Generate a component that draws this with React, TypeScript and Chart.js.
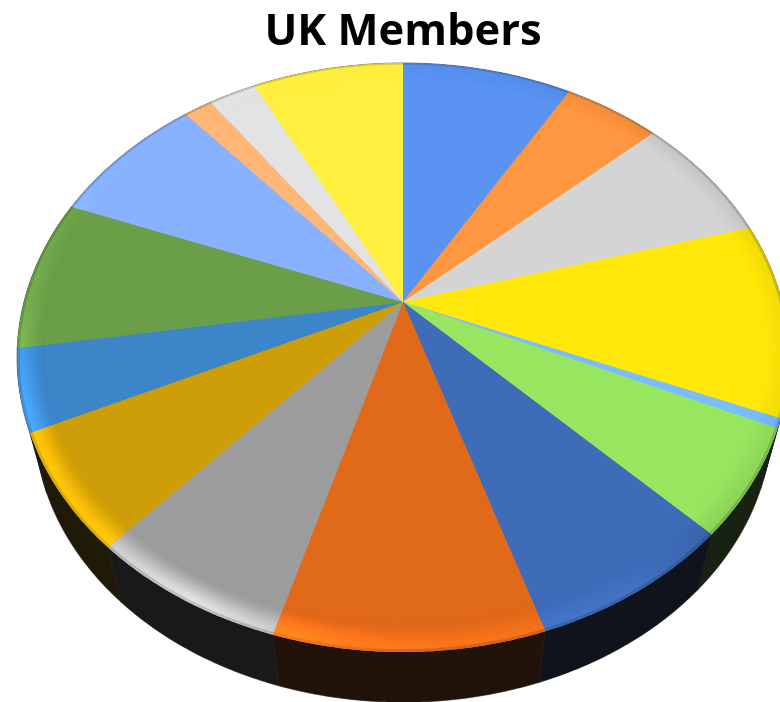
import React, { useEffect, useRef } from "react";
import { Chart, registerables } from "chart.js";

Chart.register(...registerables);

const TITLE = "UK Members";
const categories = [
  "Group 1", "Group 2", "Group 3", "Group 4", "Group 5", "Group 6", "Group 7", "Group 8",
  "Group 9", "Group 10", "Group 11", "Group 12", "Group 13", "Group 14", "Group 15", "Group 16",
];
const members = [8.5, 4.83, 7.25, 10.64, 0.53, 5.8, 7.47, 9.53, 7.14, 6.36, 4.44, 8.36, 7.8, 1.42, 2.39, 7.56];
const sliceColors = [
  "#5A93F2", "#FF9640", "#D4D4D4", "#FFE80A", "#78BEFF", "#98E660", "#3F6CB8", "#E0691A",
  "#9C9C9C", "#CE9E08", "#3B85C8", "#6B9E48", "#88B2FF", "#FFB778", "#E3E3E3", "#FFF040",
];

// Perspective of the disc: apex position and projective coefficients
const APEX_X = 403;
const APEX_Y = 302;
const K = 0.1885;
const A = 284;
const B = 379;
const WALL_SCALE = 0.955;
const WALL_DROP = 66;

const lightStops: [number, number][] = [
  [0, 0.99], [60, 0.93], [100, 0.96], [135, 0.92], [150, 1.08], [180, 1.15], [208, 1.5],
  [228, 1.28], [250, 1.3], [270, 1.12], [300, 1.02], [360, 0.99],
];

const hexToRgb = (h: string) => [1, 3, 5].map((i) => parseInt(h.slice(i, i + 2), 16));
const css = (c: number[]) => `rgb(${c.map((v) => Math.max(0, Math.min(255, Math.round(v)))).join(",")})`;

function lightAt(th: number) {
  let d = ((th * 180) / Math.PI) % 360;
  if (d < 0) d += 360;
  for (let i = 1; i < lightStops.length; i++) {
    const [a0, f0] = lightStops[i - 1];
    const [a1, f1] = lightStops[i];
    if (d <= a1) return f0 + ((f1 - f0) * (d - a0)) / (a1 - a0);
  }
  return 1;
}

function project(r: number, th: number, scale = 1, drop = 0) {
  const u = r * Math.sin(th);
  const v = -r * Math.cos(th);
  const w = 1 - K * v;
  return { x: APEX_X + ((B * u) / w) * scale, y: APEX_Y + ((A * v) / w) * scale + drop };
}

const disc3d = {
  id: "disc3d",
  beforeDatasetsDraw(chart: any) {
    const ctx = chart.ctx as CanvasRenderingContext2D;
    const arcs = chart.getDatasetMeta(0).data as any[];
    const slices = arcs.map((arc, i) => {
      const s = arc.startAngle + Math.PI / 2;
      const e = arc.endAngle + Math.PI / 2;
      const n = Math.max(2, Math.ceil((e - s) / (Math.PI / 360)));
      const base = hexToRgb(sliceColors[i]);
      return { s, e, n, base, wall: base.map((c) => c * 0.12 + 6) };
    });

    // side wall
    ctx.save();
    slices.forEach(({ s, e, n, wall }) => {
      ctx.beginPath();
      for (let j = 0; j <= n; j++) {
        const p = project(1, s + ((e - s) * j) / n);
        j === 0 ? ctx.moveTo(p.x, p.y) : ctx.lineTo(p.x, p.y);
      }
      for (let j = n; j >= 0; j--) {
        const p = project(1, s + ((e - s) * j) / n, WALL_SCALE, WALL_DROP);
        ctx.lineTo(p.x, p.y);
      }
      ctx.closePath();
      ctx.fillStyle = css(wall);
      ctx.strokeStyle = css(wall);
      ctx.lineWidth = 0.6;
      ctx.fill();
      ctx.stroke();
    });
    ctx.restore();

    // top face: an undercoat closes the seams between neighbouring slices
    slices.forEach(({ s, e, n, base }) => {
      ctx.beginPath();
      const c = project(0, 0);
      ctx.moveTo(c.x, c.y);
      for (let j = 0; j <= n; j++) {
        const p = project(0.995, s + ((e - s) * j) / n);
        ctx.lineTo(p.x, p.y);
      }
      ctx.closePath();
      ctx.strokeStyle = css(base);
      ctx.lineWidth = 1;
      ctx.stroke();
    });

    // top face with bevelled rim
    const R0 = 0.93;
    const RINGS = 12;
    slices.forEach(({ s, e, n, base, wall }) => {
      ctx.save();
      ctx.beginPath();
      const c = project(0, 0);
      ctx.moveTo(c.x, c.y);
      for (let j = 0; j <= n; j++) {
        const p = project(1, s + ((e - s) * j) / n);
        ctx.lineTo(p.x, p.y);
      }
      ctx.closePath();
      ctx.fillStyle = css(base);
      ctx.fill();
      ctx.clip();
      for (let q = 0; q < RINGS; q++) {
        const t0 = q / RINGS;
        const t1 = (q + 1) / RINGS;
        const r0 = R0 + (1 - R0) * t0;
        const r1 = R0 + (1 - R0) * t1;
        const tm = (t0 + t1) / 2;
        const ease = tm * tm * (3 - 2 * tm);
        for (let j = 0; j < n; j++) {
          const a0 = s + ((e - s) * j) / n;
          const a1 = s + ((e - s) * (j + 1)) / n;
          const I = 1 + (lightAt((a0 + a1) / 2) - 1) * ease;
          let col = base.map((v) => v * I);
          if (q === RINGS - 1) col = col.map((v, idx) => v * 0.82 + wall[idx] * 0.18);
          const p1 = project(r0, a0);
          const p2 = project(r1, a0);
          const p3 = project(r1, a1);
          const p4 = project(r0, a1);
          ctx.beginPath();
          ctx.moveTo(p1.x, p1.y);
          ctx.lineTo(p2.x, p2.y);
          ctx.lineTo(p3.x, p3.y);
          ctx.lineTo(p4.x, p4.y);
          ctx.closePath();
          ctx.fillStyle = css(col);
          ctx.strokeStyle = css(col);
          ctx.lineWidth = 0.5;
          ctx.fill();
          ctx.stroke();
        }
      }
      ctx.restore();
    });
    return false;
  },
};

export default function App() {
  const ref = useRef<HTMLCanvasElement>(null);
  useEffect(() => {
    const chart = new Chart(ref.current!, {
      type: "pie",
      data: {
        labels: categories,
        datasets: [{ data: members, backgroundColor: sliceColors, borderWidth: 0 }],
      },
      options: {
        responsive: false,
        animation: false,
        devicePixelRatio: 1,
        layout: { padding: { left: 26, top: 0 } },
        plugins: {
          legend: { display: false },
          tooltip: { enabled: false },
          title: {
            display: true,
            text: TITLE,
            color: "#000000",
            font: { family: "'Open Sans'", size: 43.5, weight: "bold" },
            padding: { top: 7, bottom: 0 },
          },
        },
      } as any,
      plugins: [disc3d],
    });
    return () => chart.destroy();
  }, []);
  return (
    <div style={{ position: "absolute", left: 0, top: 0, width: 780, height: 702, overflow: "hidden", background: "#fff" }}>
      <canvas ref={ref} width={780} height={702} style={{ display: "block" }} />
    </div>
  );
}
